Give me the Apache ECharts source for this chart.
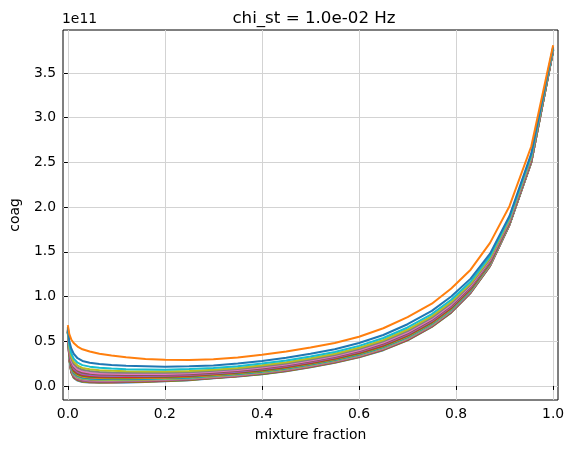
<!DOCTYPE html>
<html>
<head>
<meta charset="utf-8">
<script src="https://cdn.jsdelivr.net/npm/echarts@6/dist/echarts.min.js"></script>
<style>
  html, body { margin: 0; padding: 0; background: #fff; }
  #chart { width: 573px; height: 453px; }
</style>
</head>
<body>
<div id="chart"></div>
<script>
// mixture fraction grid
const mixFrac = [0, 0.003, 0.007, 0.012, 0.02, 0.03, 0.045, 0.065, 0.09, 0.12, 0.16, 0.2, 0.25, 0.3, 0.35,
                 0.4, 0.45, 0.5, 0.55, 0.6, 0.65, 0.7, 0.75, 0.79, 0.83, 0.87, 0.91, 0.955, 1.0];

// coag profiles, units of 1e11, bottom curve first
const coag00 = [0.600, 0.300, 0.150, 0.090, 0.060, 0.045, 0.038, 0.035, 0.036, 0.040, 0.045, 0.052, 0.063, 0.085, 0.105, 0.130, 0.165, 0.210, 0.260, 0.320, 0.400, 0.510, 0.660, 0.820, 1.040, 1.340, 1.800, 2.500, 3.750];
const coag01 = [0.601, 0.304, 0.155, 0.095, 0.065, 0.049, 0.042, 0.039, 0.040, 0.043, 0.048, 0.055, 0.066, 0.088, 0.108, 0.133, 0.168, 0.213, 0.263, 0.323, 0.403, 0.513, 0.663, 0.823, 1.043, 1.343, 1.802, 2.502, 3.751];
const coag02 = [0.602, 0.307, 0.159, 0.099, 0.069, 0.053, 0.046, 0.042, 0.043, 0.046, 0.051, 0.058, 0.068, 0.090, 0.110, 0.135, 0.170, 0.215, 0.265, 0.326, 0.406, 0.516, 0.666, 0.826, 1.046, 1.345, 1.804, 2.504, 3.751];
const coag03 = [0.603, 0.310, 0.164, 0.104, 0.073, 0.057, 0.049, 0.046, 0.046, 0.049, 0.054, 0.060, 0.071, 0.092, 0.112, 0.138, 0.173, 0.218, 0.268, 0.328, 0.409, 0.519, 0.669, 0.829, 1.048, 1.347, 1.805, 2.505, 3.752];
const coag04 = [0.604, 0.314, 0.169, 0.109, 0.078, 0.061, 0.054, 0.050, 0.050, 0.053, 0.057, 0.063, 0.074, 0.095, 0.115, 0.141, 0.176, 0.221, 0.271, 0.331, 0.412, 0.523, 0.673, 0.833, 1.051, 1.350, 1.807, 2.507, 3.753];
const coag05 = [0.605, 0.318, 0.174, 0.114, 0.083, 0.066, 0.058, 0.054, 0.054, 0.057, 0.061, 0.067, 0.077, 0.098, 0.118, 0.144, 0.179, 0.224, 0.274, 0.334, 0.415, 0.526, 0.676, 0.836, 1.054, 1.353, 1.809, 2.509, 3.754];
const coag06 = [0.607, 0.322, 0.180, 0.120, 0.088, 0.071, 0.062, 0.058, 0.058, 0.060, 0.064, 0.070, 0.080, 0.101, 0.121, 0.147, 0.182, 0.227, 0.277, 0.338, 0.419, 0.530, 0.680, 0.840, 1.058, 1.355, 1.811, 2.511, 3.754];
const coag07 = [0.608, 0.327, 0.186, 0.126, 0.094, 0.077, 0.068, 0.063, 0.063, 0.065, 0.069, 0.074, 0.084, 0.105, 0.125, 0.150, 0.185, 0.230, 0.280, 0.342, 0.423, 0.534, 0.684, 0.844, 1.062, 1.359, 1.814, 2.514, 3.755];
const coag08 = [0.610, 0.332, 0.193, 0.133, 0.100, 0.083, 0.074, 0.069, 0.068, 0.070, 0.073, 0.078, 0.088, 0.108, 0.128, 0.154, 0.189, 0.234, 0.284, 0.346, 0.427, 0.539, 0.689, 0.849, 1.066, 1.362, 1.816, 2.516, 3.756];
const coag09 = [0.611, 0.338, 0.201, 0.141, 0.108, 0.090, 0.080, 0.075, 0.074, 0.075, 0.078, 0.083, 0.093, 0.113, 0.133, 0.159, 0.194, 0.239, 0.289, 0.350, 0.432, 0.544, 0.694, 0.854, 1.070, 1.367, 1.819, 2.519, 3.758];
const coag10 = [0.613, 0.344, 0.209, 0.149, 0.115, 0.097, 0.087, 0.081, 0.080, 0.081, 0.084, 0.088, 0.098, 0.117, 0.137, 0.163, 0.198, 0.243, 0.293, 0.355, 0.437, 0.550, 0.700, 0.860, 1.075, 1.371, 1.822, 2.522, 3.759];
const coag11 = [0.615, 0.350, 0.218, 0.158, 0.123, 0.104, 0.094, 0.088, 0.086, 0.086, 0.089, 0.093, 0.102, 0.121, 0.141, 0.168, 0.203, 0.248, 0.298, 0.360, 0.443, 0.555, 0.705, 0.865, 1.080, 1.375, 1.825, 2.525, 3.760];
const coag12 = [0.617, 0.358, 0.228, 0.168, 0.133, 0.113, 0.102, 0.096, 0.094, 0.094, 0.096, 0.099, 0.109, 0.127, 0.147, 0.174, 0.209, 0.254, 0.304, 0.366, 0.449, 0.562, 0.712, 0.872, 1.086, 1.381, 1.829, 2.529, 3.762];
const coag13 = [0.620, 0.366, 0.239, 0.179, 0.143, 0.123, 0.111, 0.104, 0.102, 0.101, 0.103, 0.106, 0.115, 0.133, 0.153, 0.180, 0.215, 0.260, 0.310, 0.373, 0.456, 0.569, 0.719, 0.879, 1.093, 1.386, 1.833, 2.533, 3.763];
const coag14 = [0.623, 0.376, 0.253, 0.193, 0.155, 0.134, 0.122, 0.115, 0.112, 0.110, 0.112, 0.114, 0.123, 0.140, 0.160, 0.187, 0.222, 0.267, 0.317, 0.381, 0.465, 0.578, 0.728, 0.888, 1.101, 1.393, 1.838, 2.538, 3.765];
const coag15 = [0.626, 0.388, 0.269, 0.209, 0.170, 0.148, 0.136, 0.127, 0.124, 0.121, 0.122, 0.124, 0.132, 0.149, 0.169, 0.196, 0.231, 0.276, 0.326, 0.390, 0.475, 0.589, 0.739, 0.899, 1.110, 1.402, 1.844, 2.544, 3.768];
const coag16 = [0.630, 0.400, 0.285, 0.225, 0.185, 0.163, 0.149, 0.140, 0.136, 0.133, 0.133, 0.134, 0.142, 0.158, 0.178, 0.205, 0.240, 0.285, 0.335, 0.400, 0.485, 0.600, 0.750, 0.910, 1.120, 1.410, 1.850, 2.550, 3.770];
const coag17 = [0.635, 0.416, 0.307, 0.247, 0.205, 0.181, 0.167, 0.157, 0.151, 0.147, 0.147, 0.147, 0.154, 0.169, 0.189, 0.217, 0.252, 0.297, 0.347, 0.413, 0.499, 0.614, 0.764, 0.924, 1.133, 1.421, 1.858, 2.558, 3.773];
const coag18 = [0.640, 0.434, 0.331, 0.271, 0.228, 0.202, 0.187, 0.176, 0.169, 0.164, 0.162, 0.161, 0.168, 0.182, 0.202, 0.231, 0.266, 0.311, 0.361, 0.427, 0.514, 0.631, 0.781, 0.941, 1.147, 1.434, 1.867, 2.567, 3.777];
const coag19 = [0.648, 0.460, 0.366, 0.306, 0.260, 0.233, 0.216, 0.203, 0.195, 0.188, 0.185, 0.182, 0.189, 0.201, 0.221, 0.250, 0.285, 0.330, 0.380, 0.448, 0.536, 0.654, 0.804, 0.964, 1.168, 1.452, 1.880, 2.580, 3.782];
const coag20 = [0.660, 0.500, 0.420, 0.360, 0.310, 0.280, 0.260, 0.245, 0.235, 0.225, 0.220, 0.215, 0.220, 0.230, 0.250, 0.280, 0.315, 0.360, 0.410, 0.480, 0.570, 0.690, 0.840, 1.000, 1.200, 1.480, 1.900, 2.600, 3.790];
const coag21 = [0.680, 0.580, 0.520, 0.480, 0.440, 0.410, 0.385, 0.360, 0.340, 0.320, 0.302, 0.292, 0.290, 0.298, 0.318, 0.348, 0.385, 0.430, 0.480, 0.550, 0.645, 0.770, 0.920, 1.090, 1.300, 1.600, 2.010, 2.680, 3.810];

const profiles = [coag00, coag01, coag02, coag03, coag04, coag05, coag06, coag07, coag08, coag09, coag10,
                  coag11, coag12, coag13, coag14, coag15, coag16, coag17, coag18, coag19, coag20, coag21];

const xTicks = [0, 0.2, 0.4, 0.6, 0.8, 1.0];
const yTicks = [0, 0.5, 1.0, 1.5, 2.0, 2.5, 3.0, 3.5];

const tab10 = ["#1f77b4", "#ff7f0e", "#2ca02c", "#d62728", "#9467bd",
               "#8c564b", "#e377c2", "#7f7f7f", "#bcbd22", "#17becf"];

const font = "DejaVu Sans";

const series = profiles.map((vals, i) => ({
    type: "line",
    data: vals.map((v, j) => [mixFrac[j], v]),
    showSymbol: false,
    symbol: "none",
    lineStyle: { width: 2, color: tab10[i % 10] },
    itemStyle: { color: tab10[i % 10] },
}));

const chart = echarts.init(document.getElementById("chart"), null, { renderer: "canvas" });
chart.setOption({
    animation: false,
    backgroundColor: "#fff",
    title: {
        text: "chi_st = 1.0e-02 Hz",
        left: 309, top: 5, textAlign: "center",
        textStyle: { fontFamily: font, fontSize: 16.7, fontWeight: "normal", color: "#000" },
    },
    grid: {
        left: 61, right: 15, top: 30, bottom: 53,
        show: true, borderColor: "#000", borderWidth: 1, backgroundColor: "transparent",
    },
    xAxis: {
        type: "value",
        min: -0.01, max: 1.01,
        name: "mixture fraction",
        nameLocation: "middle", nameGap: 28,
        nameTextStyle: { fontFamily: font, fontSize: 13.9, color: "#000" },
        axisLine: { show: false },
        axisTick: { show: true, customValues: xTicks, length: 4, inside: false, lineStyle: { color: "#000" } },
        axisLabel: {
            customValues: xTicks, margin: 7,
            fontFamily: font, fontSize: 13.9, color: "#000",
            formatter: (v) => v.toFixed(1),
        },
        splitLine: { show: true, lineStyle: { color: "#d3d3d3", width: 1 } },
    },
    yAxis: {
        type: "value",
        min: -0.157, max: 3.98,
        name: "coag",
        nameLocation: "middle", nameGap: 41, nameRotate: 90,
        nameTextStyle: { fontFamily: font, fontSize: 13.9, color: "#000" },
        axisLine: { show: false },
        axisTick: { show: true, customValues: yTicks, length: 4, inside: false, lineStyle: { color: "#000" } },
        axisLabel: {
            customValues: yTicks, margin: 7,
            fontFamily: font, fontSize: 13.9, color: "#000",
            formatter: (v) => v.toFixed(1),
        },
        splitLine: { show: true, lineStyle: { color: "#d3d3d3", width: 1 } },
    },
    graphic: [{
        type: "text", left: 62, top: 12,
        style: { text: "1e11", font: "13.9px " + font, fill: "#000" },
    }],
    series: series,
});
</script>
</body>
</html>
